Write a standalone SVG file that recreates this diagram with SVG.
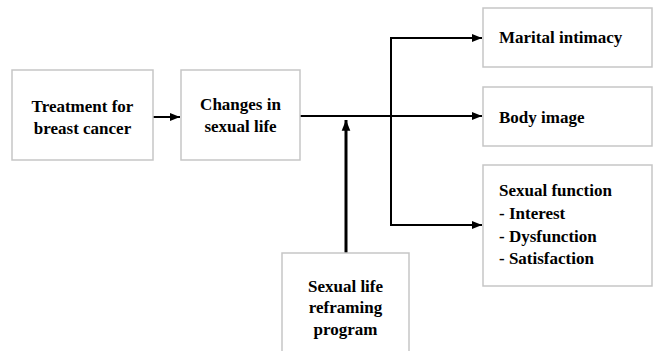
<svg xmlns="http://www.w3.org/2000/svg" width="658" height="351" viewBox="0 0 658 351">
<style>
.box{fill:#fff;stroke:#c6c6c6;stroke-width:1.5}
.ln{fill:none;stroke:#000;stroke-width:2}
.thick{fill:none;stroke:#000;stroke-width:3}
text{font-family:'Liberation Serif','Times New Roman',serif;font-weight:bold;font-size:17px;fill:#000}
.c{text-anchor:middle}
</style>
<defs>
<marker id="ah" viewBox="0 0 10 10" refX="10" refY="5" markerWidth="5" markerHeight="5" markerUnits="strokeWidth" orient="auto">
<path d="M0,1 L10,5 L0,9 z" fill="#000"/>
</marker>
<marker id="ah2" viewBox="0 0 10 10" refX="10" refY="5" markerWidth="3.6" markerHeight="3.6" markerUnits="strokeWidth" orient="auto">
<path d="M0,1 L10,5 L0,9 z" fill="#000"/>
</marker>
</defs>
<g id="connectors">
<line class="ln" x1="153" y1="117" x2="180" y2="117" marker-end="url(#ah)"/>
<line class="ln" x1="300" y1="116" x2="482" y2="116" marker-end="url(#ah)"/>
<path class="ln" d="M391,116 V38 H482" marker-end="url(#ah)"/>
<path class="ln" d="M391,116 V225 H482" marker-end="url(#ah)"/>
<line class="thick" x1="346" y1="253" x2="346" y2="120" marker-end="url(#ah2)"/>
</g>
<g id="treatment">
<rect class="box" x="12" y="70" width="141" height="90"/>
<text class="c" x="82.5" y="112" font-family="Liberation Serif, serif" font-weight="bold" font-size="17">Treatment for</text>
<text class="c" x="82.5" y="134" font-family="Liberation Serif, serif" font-weight="bold" font-size="17">breast cancer</text>
</g>
<g id="changes">
<rect class="box" x="181" y="70" width="119" height="90"/>
<text class="c" x="240.5" y="110" font-family="Liberation Serif, serif" font-weight="bold" font-size="17">Changes in</text>
<text class="c" x="240.5" y="132" font-family="Liberation Serif, serif" font-weight="bold" font-size="17">sexual life</text>
</g>
<g id="marital">
<rect class="box" x="483" y="8" width="169" height="59"/>
<text x="499" y="43" font-family="Liberation Serif, serif" font-weight="bold" font-size="17">Marital intimacy</text>
</g>
<g id="body">
<rect class="box" x="483" y="87" width="169" height="59"/>
<text x="499" y="123" font-family="Liberation Serif, serif" font-weight="bold" font-size="17">Body image</text>
</g>
<g id="function">
<rect class="box" x="483" y="165" width="169" height="121"/>
<text x="499" y="196" font-family="Liberation Serif, serif" font-weight="bold" font-size="17">Sexual function</text>
<text x="499" y="219" font-family="Liberation Serif, serif" font-weight="bold" font-size="17">- Interest</text>
<text x="499" y="242" font-family="Liberation Serif, serif" font-weight="bold" font-size="17">- Dysfunction</text>
<text x="499" y="264" font-family="Liberation Serif, serif" font-weight="bold" font-size="17">- Satisfaction</text>
</g>
<g id="program">
<rect class="box" x="282" y="253" width="127" height="110"/>
<text class="c" x="345.5" y="292" font-family="Liberation Serif, serif" font-weight="bold" font-size="17">Sexual life</text>
<text class="c" x="345.5" y="313" font-family="Liberation Serif, serif" font-weight="bold" font-size="17">reframing</text>
<text class="c" x="345.5" y="335" font-family="Liberation Serif, serif" font-weight="bold" font-size="17">program</text>
</g>
</svg>
